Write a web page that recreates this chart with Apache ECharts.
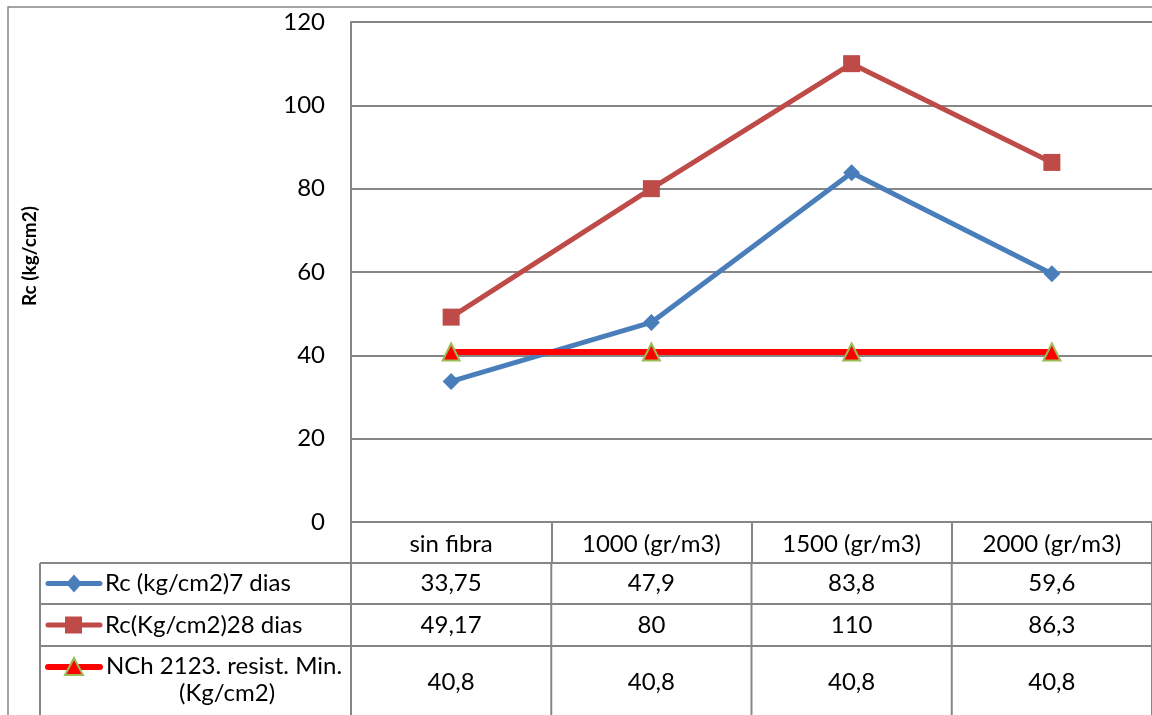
<!DOCTYPE html>
<html>
<head>
<meta charset="utf-8">
<script src="https://cdn.jsdelivr.net/npm/echarts@6/dist/echarts.min.js"></script>
<style>
html,body{margin:0;padding:0;background:#fff;}
#chart{width:1152px;height:715px;}
</style>
</head>
<body>
<div id="chart"></div>
<script>
const categories = ['sin fibra', '1000 (gr/m3)', '1500 (gr/m3)', '2000 (gr/m3)'];
const seriesNames = ['Rc (kg/cm2)7 dias', 'Rc(Kg/cm2)28 dias', 'NCh 2123. resist. Min. (Kg/cm2)'];
const rc7 = [33.75, 47.9, 83.8, 59.6];
const rc28 = [49.17, 80, 110, 86.3];
const nch = [40.8, 40.8, 40.8, 40.8];
const yTicks = [0, 20, 40, 60, 80, 100, 120];
const yTitle = 'Rc (kg/cm2)';

const FONT = 'Lato';
const FS = 24;
const GRID = '#868686';
const colors = ['#4A7EBB', '#BE4B48', '#FF0000'];

const chart = echarts.init(document.getElementById('chart'), null, {renderer: 'canvas'});

const GL = 351, GT = 22, GB = 715 - 522;
const option = {
  animation: false,
  backgroundColor: '#fff',
  grid: {left: GL, right: 0, top: GT, bottom: GB, containLabel: false},
  xAxis: {
    type: 'category',
    data: categories,
    boundaryGap: true,
    axisLine: {show: true, lineStyle: {color: GRID, width: 2}},
    axisTick: {show: true, length: 41, alignWithLabel: false, lineStyle: {color: GRID, width: 2}},
    axisLabel: {show: true, margin: 10, fontFamily: FONT, fontSize: FS, color: '#000', interval: 0, verticalAlign: 'top'},
    splitLine: {show: false}
  },
  yAxis: {
    type: 'value',
    min: yTicks[0], max: yTicks[yTicks.length - 1], interval: yTicks[1] - yTicks[0],
    axisLine: {show: true, lineStyle: {color: GRID, width: 2}},
    axisTick: {show: false},
    axisLabel: {margin: 26, fontFamily: FONT, fontSize: FS, color: '#000'},
    splitLine: {show: true, lineStyle: {color: GRID, width: 2}}
  },
  series: [
    {name: seriesNames[0], type: 'line', data: rc7, symbol: 'diamond', symbolSize: 17,
     lineStyle: {color: colors[0], width: 5}, itemStyle: {color: colors[0]}, z: 3},
    {name: seriesNames[1], type: 'line', data: rc28, symbol: 'rect', symbolSize: 17,
     lineStyle: {color: colors[1], width: 5}, itemStyle: {color: colors[1]}, z: 3},
    {name: seriesNames[2], type: 'line', data: nch, symbol: 'triangle', symbolSize: 17,
     lineStyle: {color: colors[2], width: 6}, itemStyle: {color: colors[2], borderColor: '#9BBB59', borderWidth: 2}, z: 4}
  ]
};
chart.setOption(option);

function fmt(v) { return String(v).replace('.', ','); }

// Build data table under the axis from the same arrays
const g = [];
const W = 1152;
const tableLeft = 40;
const rowTops = [563, 604, 646, 715];
const colEdges = [];
const centers = categories.map((c, i) => chart.convertToPixel({xAxisIndex: 0}, i));
const half = (centers[1] - centers[0]) / 2;
colEdges.push(GL);
centers.forEach(c => colEdges.push(c + half));

// outer chart border
g.push({type: 'rect', shape: {x: 8, y: 7, width: 1200, height: 800}, style: {fill: 'none', stroke: GRID, lineWidth: 1.5}, silent: true, z: 0});

// horizontal lines of the data table
rowTops.slice(0, 3).forEach(y => {
  g.push({type: 'line', shape: {x1: tableLeft, y1: y, x2: W, y2: y}, style: {stroke: GRID, lineWidth: 2}, silent: true});
});
// vertical lines
g.push({type: 'line', shape: {x1: tableLeft, y1: rowTops[0], x2: tableLeft, y2: 715}, style: {stroke: GRID, lineWidth: 2}, silent: true});
colEdges.forEach(x => {
  g.push({type: 'line', shape: {x1: x, y1: rowTops[0], x2: x, y2: 715}, style: {stroke: GRID, lineWidth: 2}, silent: true});
});

const seriesData = [rc7, rc28, nch];
const symbols = ['diamond', 'rect', 'triangle'];
const canvas = document.createElement('canvas');
const ctx = canvas.getContext('2d');
ctx.font = FS + 'px ' + FONT;
seriesData.forEach((arr, r) => {
  const top = rowTops[r], bot = rowTops[r + 1];
  const single = ctx.measureText(seriesNames[r]).width <= 238;
  const keyY = single ? (top + bot) / 2 : top + 21;
  // legend key line
  g.push({type: 'line', shape: {x1: 48, y1: keyY, x2: 100, y2: keyY},
          style: {stroke: colors[r], lineWidth: r === 2 ? 6 : 5, lineCap: 'round'}, silent: true});
  // legend key symbol
  if (symbols[r] === 'diamond') {
    g.push({type: 'polygon', shape: {points: [[74, keyY - 9], [82, keyY], [74, keyY + 9], [66, keyY]]}, style: {fill: colors[r]}, silent: true});
  } else if (symbols[r] === 'rect') {
    g.push({type: 'rect', shape: {x: 65, y: keyY - 8.5, width: 17, height: 17}, style: {fill: colors[r]}, silent: true});
  } else {
    g.push({type: 'polygon', shape: {points: [[74, keyY - 9], [83, keyY + 8], [65, keyY + 8]]}, style: {fill: colors[r], stroke: '#9BBB59', lineWidth: 2}, silent: true});
  }
  // series name
  if (single) {
    g.push({type: 'text', x: 105, y: (top + bot) / 2, style: {text: seriesNames[r], font: FS + 'px ' + FONT, fill: '#000', textAlign: 'left', textVerticalAlign: 'middle'}, silent: true});
  } else {
    g.push({type: 'text', x: 224, y: top + 7, style: {text: seriesNames[r], font: FS + 'px ' + FONT, fill: '#000', align: 'center', verticalAlign: 'top', width: 240, overflow: 'break', lineHeight: 27}, silent: true});
  }
  // values
  arr.forEach((v, i) => {
    g.push({type: 'text', x: centers[i], y: (top + bot) / 2 + (r === 2 ? 2 : 0), style: {text: fmt(v), font: FS + 'px ' + FONT, fill: '#000', textAlign: 'center', textVerticalAlign: 'middle'}, silent: true});
  });
});

// Y axis title
g.push({type: 'text', x: 30, y: 256, rotation: Math.PI / 2,
        style: {text: yTitle, font: 'bold 19px ' + FONT, fill: '#000', textAlign: 'center', textVerticalAlign: 'middle'}, silent: true});

chart.setOption({graphic: {elements: g}});
</script>
</body>
</html>
